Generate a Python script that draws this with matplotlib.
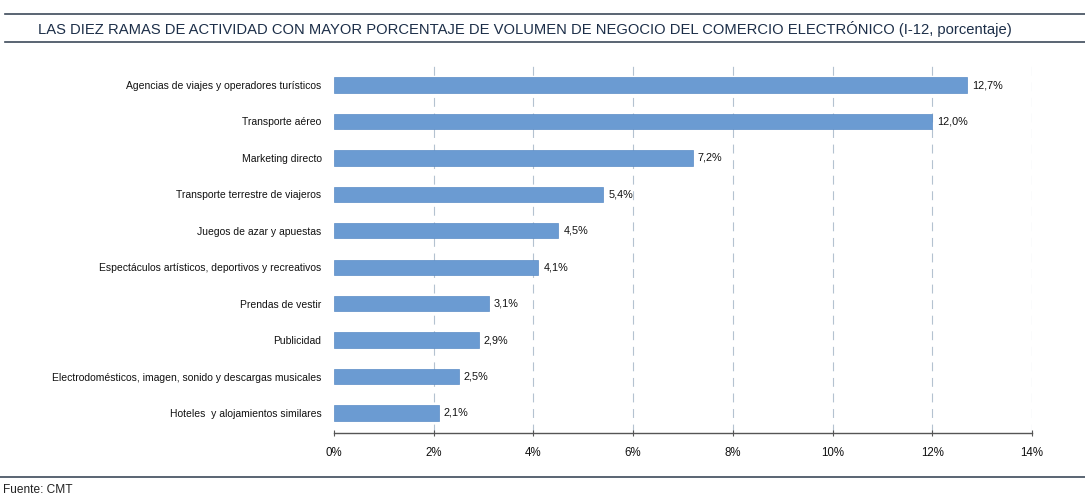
import matplotlib
matplotlib.use("Agg")
import matplotlib.pyplot as plt

categories = [
    "Agencias de viajes y operadores turísticos",
    "Transporte aéreo",
    "Marketing directo",
    "Transporte terrestre de viajeros",
    "Juegos de azar y apuestas",
    "Espectáculos artísticos, deportivos y recreativos",
    "Prendas de vestir",
    "Publicidad",
    "Electrodomésticos, imagen, sonido y descargas musicales",
    "Hoteles  y alojamientos similares",
]
values = [12.7, 12.0, 7.2, 5.4, 4.5, 4.1, 3.1, 2.9, 2.5, 2.1]
value_labels = ["12,7%", "12,0%", "7,2%", "5,4%", "4,5%", "4,1%", "3,1%", "2,9%", "2,5%", "2,1%"]
xticks = [0, 2, 4, 6, 8, 10, 12, 14]
xtick_labels = ["0%", "2%", "4%", "6%", "8%", "10%", "12%", "14%"]
title = "LAS DIEZ RAMAS DE ACTIVIDAD CON MAYOR PORCENTAJE DE VOLUMEN DE NEGOCIO DEL COMERCIO ELECTRÓNICO (I-12, porcentaje)"
source = "Fuente: CMT"

F = "Liberation Sans"

W, H = 1085, 498
fig = plt.figure(figsize=(W / 100, H / 100), dpi=100)
fig.patch.set_facecolor("white")

ax = fig.add_axes([334 / W, 1 - 433 / H, (1032 - 334) / W, (433 - 65) / H])
y = list(range(len(categories)))
ax.barh(y, values, height=0.42, color="#6b9bd2", edgecolor="#5a8cc6", linewidth=0.5, zorder=3)
ax.set_ylim(len(categories) - 0.45, -0.55)
ax.set_xlim(0, 14)
ax.set_yticks(y)
ax.set_yticklabels(categories, fontsize=7.5, family=F, color="#111111")
ax.tick_params(axis="y", length=0, pad=9)
ax.set_xticks(xticks)
ax.set_xticklabels(xtick_labels, fontsize=8.3, family=F, color="#111111")
ax.tick_params(axis="x", length=4, direction="inout", color="#555555", pad=8)
for s in ["top", "right", "left"]:
    ax.spines[s].set_visible(False)
ax.spines["bottom"].set_color("#555555")
ax.spines["bottom"].set_linewidth(1.0)
for xv in xticks[1:]:
    ax.axvline(xv, color="#b4c2d0", linestyle=(0, (8, 6)), linewidth=0.8, zorder=1)

for yi, v, lab in zip(y, values, value_labels):
    ax.text(v + 0.1, yi, lab, va="center", ha="left", fontsize=7.8, family=F, color="#111111")

# header rules and title
fig.add_artist(plt.Line2D([5 / W, 1], [1 - 14 / H] * 2, color="#3d4a5a", linewidth=1.2))
fig.add_artist(plt.Line2D([5 / W, 1], [1 - 42 / H] * 2, color="#3d4a5a", linewidth=1.2))
fig.text(38 / W, 1 - 29 / H, title, fontsize=10.6, family=F, color="#1c2e48", va="center", ha="left")

# footer
fig.add_artist(plt.Line2D([0, 1], [1 - 477 / H] * 2, color="#3d4a5a", linewidth=1.2))
fig.text(3 / W, 1 - 490 / H, source, fontsize=8.6, family=F, color="#222222", va="center", ha="left")

fig.savefig("out.png", dpi=100, facecolor="white")
